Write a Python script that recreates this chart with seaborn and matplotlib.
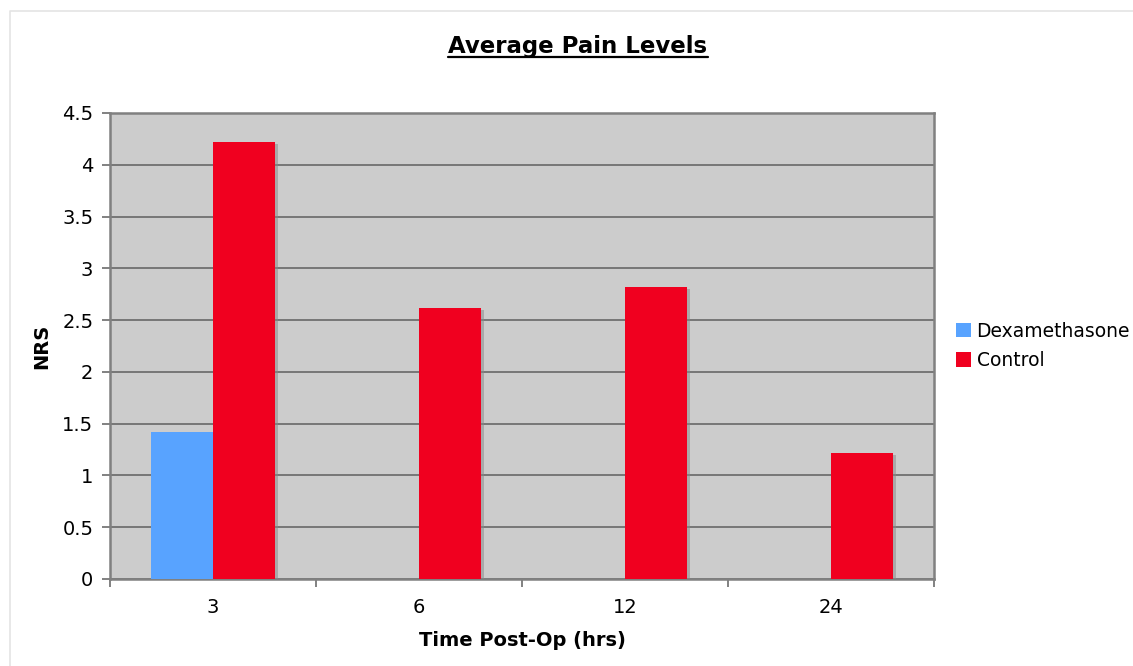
import matplotlib
matplotlib.use("Agg")
import matplotlib.pyplot as plt
import matplotlib.patheffects as pe
from matplotlib.lines import Line2D
import seaborn as sns
import pandas as pd

times = ["3", "6", "12", "24"]
dexamethasone = [1.42, 0, 0, 0]
control = [4.22, 2.62, 2.82, 1.22]
series_names = ["Dexamethasone", "Control"]
colors = ["#58a3ff", "#f0001f"]
yticks = [0, 0.5, 1, 1.5, 2, 2.5, 3, 3.5, 4, 4.5]

df = pd.DataFrame({
    "time": times * 2,
    "nrs": dexamethasone + control,
    "group": [series_names[0]] * len(times) + [series_names[1]] * len(times),
})

sns.set_theme(style="white")
plt.rcParams["font.family"] = ["DejaVu Sans"]

fig = plt.figure(figsize=(11.33, 6.66), dpi=100)
ax = fig.add_axes([110 / 1133, 1 - 579 / 666, 824 / 1133, 466 / 666])
ax.set_facecolor("#cccccc")

sns.barplot(data=df, x="time", y="nrs", hue="group", order=times,
            hue_order=series_names, palette=colors, width=0.6, gap=0,
            linewidth=0, saturation=1, ax=ax, legend=True, zorder=3)

for p in ax.patches:
    p.set_path_effects([pe.SimplePatchShadow(offset=(2.5, -1.5), shadow_rgbFace="#888888", alpha=0.5), pe.Normal()])

ax.set_ylim(0, 4.5)
ax.set_xlim(-0.5, 3.5)
ax.set_yticks(yticks)
ax.set_yticklabels([f"{v:g}" for v in yticks], fontsize=14, color="black")
ax.yaxis.grid(True, color="#707070", linewidth=1.3, zorder=1)
ax.set_axisbelow(True)

# category boundary ticks and centered labels
ax.set_xticks([-0.5, 0.5, 1.5, 2.5, 3.5])
ax.set_xticklabels([])
ax.set_xticks(range(len(times)), minor=True)
ax.set_xticklabels(times, minor=True, fontsize=14, color="black")
ax.tick_params(axis="x", which="major", direction="out", length=6, width=1.3, color="#777777", bottom=True)
ax.tick_params(axis="x", which="minor", length=0, pad=14)
ax.tick_params(axis="y", direction="out", length=6, width=1.3, color="#777777", left=True, pad=6)

for s in ax.spines.values():
    s.set_color("#808080")
    s.set_linewidth(1.8)

ax.set_xlabel("Time Post-Op (hrs)", fontsize=14, fontweight="bold", color="black")
ax.set_ylabel("NRS", fontsize=14, fontweight="bold", color="black")
ax.xaxis.set_label_coords(0.5, -0.112)
ax.yaxis.set_label_coords(-0.071, 0.5)

leg = ax.legend(loc="center left", bbox_to_anchor=(956 / 1133, 1 - 346 / 666),
                bbox_transform=fig.transFigure, frameon=False, fontsize=13.5,
                handlelength=0.8, handleheight=0.8, handletextpad=0.3,
                labelspacing=0.55, borderaxespad=0, borderpad=0)
for h in leg.legend_handles:
    h.set_path_effects([])
for t in leg.get_texts():
    t.set_color("black")

title = fig.text(578 / 1133, 1 - 46 / 666, "Average Pain Levels", fontsize=16.5,
                 fontweight="bold", ha="center", va="center", color="black")

# figure border (light)
fig.add_artist(Line2D([10 / 1133, 10 / 1133, 1], [0, 1 - 11 / 666, 1 - 11 / 666],
                      transform=fig.transFigure, color="#e4e4e4", linewidth=1.2))

# underline title
fig.canvas.draw()
bb = title.get_window_extent(renderer=fig.canvas.get_renderer())
bbf = bb.transformed(fig.transFigure.inverted())
fig.add_artist(Line2D([bbf.x0, bbf.x1], [bbf.y0 + 0.001, bbf.y0 + 0.001],
                      transform=fig.transFigure, color="black", linewidth=1.6))

fig.savefig("out.png", dpi=100)
